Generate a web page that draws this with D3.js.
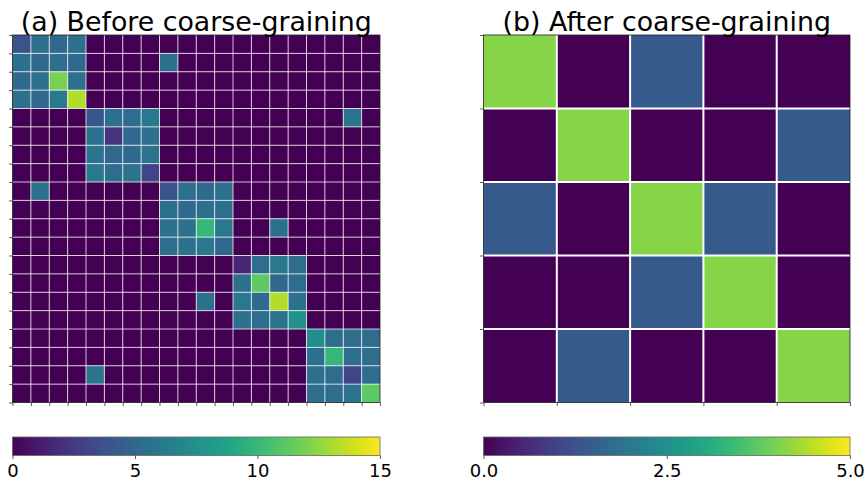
<!DOCTYPE html>
<html>
<head>
<meta charset="utf-8">
<script src="https://cdn.jsdelivr.net/npm/d3@7"></script>
<style>
  body { margin: 0; background: #fff; }
  svg { font-family: "DejaVu Sans", sans-serif; }
</style>
</head>
<body>
<svg id="chart" width="867" height="481"></svg>
<script>
// 20x20 matrix before coarse-graining (rows top to bottom)
const beforeRows = [
  [3.8, 5.5, 5.0, 5.5, 0, 0, 0, 0, 0, 0, 0, 0, 0, 0, 0, 0, 0, 0, 0, 0],
  [5.5, 5.0, 5.5, 5.0, 0, 0, 0, 0, 5.5, 0, 0, 0, 0, 0, 0, 0, 0, 0, 0, 0],
  [5.0, 5.5, 12.0, 5.5, 0, 0, 0, 0, 0, 0, 0, 0, 0, 0, 0, 0, 0, 0, 0, 0],
  [5.5, 5.0, 6.0, 13.3, 0, 0, 0, 0, 0, 0, 0, 0, 0, 0, 0, 0, 0, 0, 0, 0],
  [0, 0, 0, 0, 4.0, 5.5, 5.3, 6.0, 0, 0, 0, 0, 0, 0, 0, 0, 0, 0, 5.8, 0],
  [0, 0, 0, 0, 5.5, 2.3, 5.0, 5.5, 0, 0, 0, 0, 0, 0, 0, 0, 0, 0, 0, 0],
  [0, 0, 0, 0, 5.7, 5.0, 5.0, 5.7, 0, 0, 0, 0, 0, 0, 0, 0, 0, 0, 0, 0],
  [0, 0, 0, 0, 6.0, 5.3, 5.7, 3.0, 0, 0, 0, 0, 0, 0, 0, 0, 0, 0, 0, 0],
  [0, 5.5, 0, 0, 0, 0, 0, 0, 3.8, 5.5, 5.0, 5.5, 0, 0, 0, 0, 0, 0, 0, 0],
  [0, 0, 0, 0, 0, 0, 0, 0, 5.5, 5.0, 5.5, 5.5, 0, 0, 0, 0, 0, 0, 0, 0],
  [0, 0, 0, 0, 0, 0, 0, 0, 5.5, 5.5, 10.0, 6.0, 0, 0, 5.5, 0, 0, 0, 0, 0],
  [0, 0, 0, 0, 0, 0, 0, 0, 5.3, 5.5, 6.0, 5.0, 0, 0, 0, 0, 0, 0, 0, 0],
  [0, 0, 0, 0, 0, 0, 0, 0, 0, 0, 0, 0, 1.5, 5.3, 6.0, 5.3, 0, 0, 0, 0],
  [0, 0, 0, 0, 0, 0, 0, 0, 0, 0, 0, 0, 5.5, 11.3, 5.0, 5.3, 0, 0, 0, 0],
  [0, 0, 0, 0, 0, 0, 0, 0, 0, 0, 5.5, 0, 6.0, 5.2, 13.3, 5.5, 0, 0, 0, 0],
  [0, 0, 0, 0, 0, 0, 0, 0, 0, 0, 0, 0, 5.5, 5.3, 5.7, 7.5, 0, 0, 0, 0],
  [0, 0, 0, 0, 0, 0, 0, 0, 0, 0, 0, 0, 0, 0, 0, 0, 7.3, 5.3, 5.3, 5.3],
  [0, 0, 0, 0, 0, 0, 0, 0, 0, 0, 0, 0, 0, 0, 0, 0, 5.5, 10.0, 5.3, 5.3],
  [0, 0, 0, 0, 5.8, 0, 0, 0, 0, 0, 0, 0, 0, 0, 0, 0, 5.3, 5.3, 3.0, 5.3],
  [0, 0, 0, 0, 0, 0, 0, 0, 0, 0, 0, 0, 0, 0, 0, 0, 5.3, 5.3, 5.7, 11.3],
];

// 5x5 matrix after coarse-graining
const afterRows = [
  [4.1, 0, 1.4, 0, 0],
  [0, 4.1, 0, 0, 1.4],
  [1.4, 0, 4.1, 1.4, 0],
  [0, 0, 1.4, 4.1, 0],
  [0, 1.4, 0, 0, 4.1],
];

const beforeTicks = [0, 5, 10, 15];
const afterTicks = [0, 2.5, 5];

const svg = d3.select("#chart");

function drawPanel(opts) {
  const { rows, left, right, top, bottom, vmax, title, ticks, fmt, gridWidth, gridOpacity } = opts;
  const n = rows.length;
  const x = d3.scaleLinear().domain([0, n]).range([left, right]);
  const y = d3.scaleLinear().domain([0, n]).range([top, bottom]);
  const color = d3.scaleSequential(d3.interpolateViridis).domain([0, vmax]);

  const g = svg.append("g");

  const cells = rows.flatMap((row, i) => row.map((v, j) => ({ i, j, v })));
  g.selectAll("rect.cell")
    .data(cells)
    .enter()
    .append("rect")
    .attr("class", "cell")
    .attr("x", (d) => x(d.j))
    .attr("y", (d) => y(d.i))
    .attr("width", x(1) - x(0))
    .attr("height", y(1) - y(0))
    .attr("fill", (d) => color(d.v));

  // white grid lines between cells
  g.selectAll("line.vgrid")
    .data(d3.range(1, n))
    .enter()
    .append("line")
    .attr("x1", (d) => x(d))
    .attr("x2", (d) => x(d))
    .attr("y1", top)
    .attr("y2", bottom)
    .attr("stroke", "#fff")
    .attr("stroke-width", gridWidth)
    .attr("stroke-opacity", gridOpacity);
  g.selectAll("line.hgrid")
    .data(d3.range(1, n))
    .enter()
    .append("line")
    .attr("y1", (d) => y(d))
    .attr("y2", (d) => y(d))
    .attr("x1", left)
    .attr("x2", right)
    .attr("stroke", "#fff")
    .attr("stroke-width", gridWidth)
    .attr("stroke-opacity", gridOpacity);

  // ticks at cell boundaries, no labels
  const xAxis = d3.axisBottom(x).tickValues(d3.range(n + 1)).tickFormat("").tickSize(3.5).tickSizeOuter(0);
  const yAxis = d3.axisLeft(y).tickValues(d3.range(n + 1)).tickFormat("").tickSize(3.5).tickSizeOuter(0);
  g.append("g").attr("transform", `translate(0,${bottom})`).call(xAxis)
    .call((s) => s.select(".domain").remove())
    .selectAll("line").attr("stroke", "#333").attr("stroke-width", 0.8);
  g.append("g").attr("transform", `translate(${left},0)`).call(yAxis)
    .call((s) => s.select(".domain").remove())
    .selectAll("line").attr("stroke", "#333").attr("stroke-width", 0.8);

  // frame
  g.append("rect")
    .attr("x", left)
    .attr("y", top)
    .attr("width", right - left)
    .attr("height", bottom - top)
    .attr("fill", "none")
    .attr("stroke", "#222")
    .attr("stroke-width", 0.8);

  g.append("text")
    .attr("x", (left + right) / 2)
    .attr("y", 30.5)
    .attr("text-anchor", "middle")
    .attr("font-size", 26.8)
    .attr("fill", "#000")
    .text(title);

  // colorbar
  const cbTop = 437;
  const cbH = 18.5;
  const gradId = "grad-" + vmax;
  const grad = svg.append("defs").append("linearGradient").attr("id", gradId);
  d3.range(0, 1.0001, 0.05).forEach((t) => {
    grad.append("stop").attr("offset", t).attr("stop-color", d3.interpolateViridis(t));
  });
  g.append("rect")
    .attr("x", left)
    .attr("y", cbTop)
    .attr("width", right - left)
    .attr("height", cbH)
    .attr("fill", `url(#${gradId})`)
    .attr("stroke", "#666")
    .attr("stroke-width", 0.8);

  const cbScale = d3.scaleLinear().domain([0, vmax]).range([left, right]);
  const cbAxis = g.append("g")
    .attr("transform", `translate(0,${cbTop + cbH})`)
    .call(d3.axisBottom(cbScale).tickValues(ticks).tickFormat(fmt).tickSize(3.5).tickSizeOuter(0));
  cbAxis.select(".domain").remove();
  cbAxis.selectAll("line").attr("stroke", "#333").attr("stroke-width", 0.8);
  cbAxis.selectAll("text")
    .attr("font-size", 18)
    .attr("font-family", "DejaVu Sans, sans-serif")
    .attr("fill", "#000")
    .attr("dy", "0.9em")
    .attr("y", 5);
}

drawPanel({
  rows: beforeRows,
  left: 12.5, right: 380, top: 35, bottom: 402.5,
  vmax: 15,
  title: "(a) Before coarse-graining",
  ticks: beforeTicks,
  fmt: d3.format("d"),
  gridWidth: 1,
  gridOpacity: 0.75,
});

drawPanel({
  rows: afterRows,
  left: 483.5, right: 850, top: 35, bottom: 402.5,
  vmax: 5,
  title: "(b) After coarse-graining",
  ticks: afterTicks,
  fmt: d3.format(".1f"),
  gridWidth: 2,
  gridOpacity: 1,
});
</script>
</body>
</html>
